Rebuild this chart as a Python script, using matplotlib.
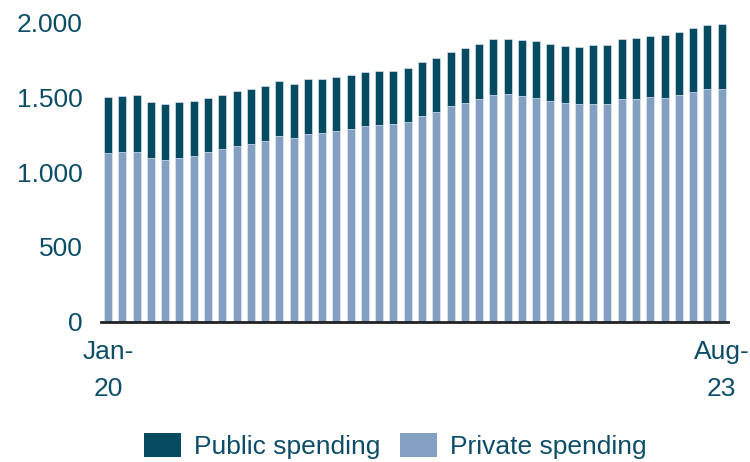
import matplotlib
matplotlib.use("Agg")
import matplotlib.pyplot as plt
from matplotlib.patches import Patch
import numpy as np

months = ["Jan-20","Feb-20","Mar-20","Apr-20","May-20","Jun-20","Jul-20","Aug-20","Sep-20","Oct-20","Nov-20","Dec-20",
          "Jan-21","Feb-21","Mar-21","Apr-21","May-21","Jun-21","Jul-21","Aug-21","Sep-21","Oct-21","Nov-21","Dec-21",
          "Jan-22","Feb-22","Mar-22","Apr-22","May-22","Jun-22","Jul-22","Aug-22","Sep-22","Oct-22","Nov-22","Dec-22",
          "Jan-23","Feb-23","Mar-23","Apr-23","May-23","Jun-23","Jul-23","Aug-23"]

private = [1127, 1136, 1138, 1098, 1080, 1092, 1110, 1132, 1152, 1176, 1189, 1211,
           1242, 1231, 1258, 1264, 1273, 1291, 1309, 1313, 1322, 1337, 1376, 1405,
           1443, 1465, 1489, 1518, 1523, 1511, 1498, 1478, 1465, 1454, 1458, 1456,
           1491, 1491, 1500, 1498, 1518, 1536, 1554, 1558]

public = [373, 373, 375, 369, 378, 375, 368, 364, 364, 367, 369, 367,
          371, 362, 362, 358, 363, 358, 358, 363, 354, 357, 359, 358,
          364, 368, 371, 375, 368, 371, 380, 378, 382, 386, 393, 395,
          400, 409, 411, 420, 422, 431, 431, 436]

yticks = [0, 500, 1000, 1500, 2000]
ytick_labels = ["0", "500", "1.000", "1.500", "2.000"]
xtick_labels = {0: "Jan-\n20", 43: "Aug-\n23"}

c_public = "#064a62"
c_private = "#83a0c3"
c_text = "#0d4d68"

plt.rcParams["font.family"] = ["Liberation Sans", "DejaVu Sans"]

fig = plt.figure(figsize=(7.5, 4.62), dpi=100)
ax = fig.add_axes([0.1347, 0.3037, 0.8360, 0.6472])

x = np.arange(len(months))
ax.bar(x, private, width=0.56, color=c_private, edgecolor="#e8eef5", linewidth=0.4)
ax.bar(x, public, bottom=private, width=0.56, color=c_public, edgecolor="#e8eef5", linewidth=0.4)

ax.set_xlim(-0.5, 43.45)
ax.set_ylim(0, 2000)
ax.set_yticks(yticks)
ax.set_yticklabels(ytick_labels)
ax.set_xticks(list(xtick_labels.keys()))
ax.set_xticklabels(list(xtick_labels.values()), linespacing=1.68)
ax.tick_params(axis="both", length=0, labelsize=19, labelcolor=c_text)
ax.tick_params(axis="y", pad=13)
ax.tick_params(axis="x", pad=13)

for s in ["top", "right", "left"]:
    ax.spines[s].set_visible(False)
ax.spines["bottom"].set_color("#222222")
ax.spines["bottom"].set_linewidth(2)

handles = [Patch(facecolor=c_public), Patch(facecolor=c_private)]
leg = fig.legend(handles, ["Public spending", "Private spending"], loc="center",
                 bbox_to_anchor=(0.527, 0.035), ncol=2, frameon=False, fontsize=19,
                 handlelength=1.4, handleheight=1.06, handletextpad=0.5, columnspacing=0.75,
                 labelcolor=c_text, borderpad=0.0)

fig.savefig("out.png", dpi=100)
